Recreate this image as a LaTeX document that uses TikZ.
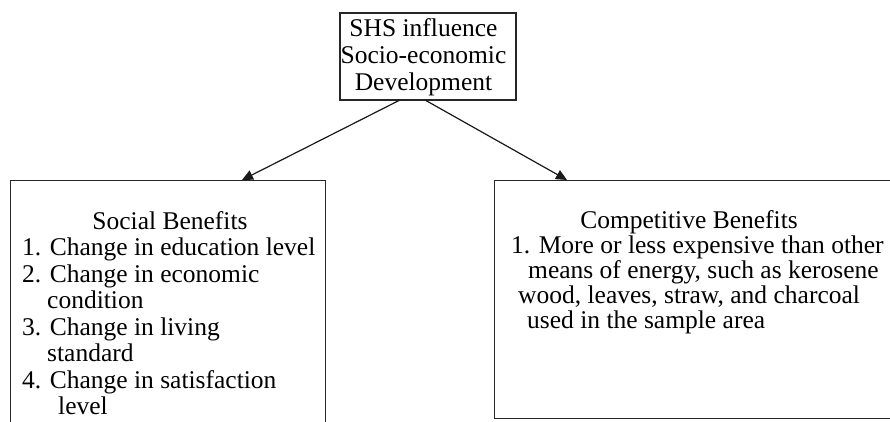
\documentclass[tikz,border=0pt]{standalone}
\usepackage{fontspec}
\setmainfont{Liberation Serif}
\usetikzlibrary{arrows.meta}
\begin{document}
\begin{tikzpicture}[x=1pt,y=-1pt,
  box/.style={draw=black!85,line width=1.2pt},
  txt/.style={font=\fontsize{25.5}{27}\selectfont,inner sep=0pt,anchor=base west},
  ctxt/.style={font=\fontsize{25.5}{27}\selectfont,inner sep=0pt,anchor=base},
  arr/.style={line width=1.2pt,draw=black!90,-{Triangle[length=11pt,width=10pt]}}]
\useasboundingbox (0,0) rectangle (890,422);
\clip (0,0) rectangle (890,422);
% top box
\node[box,minimum width=176pt,minimum height=87pt,inner sep=0pt] (top) at (428,56.5) {};
\node[ctxt] (t1) at (423.5,37) {SHS influence};
\node[ctxt] (t2) at (423.5,64) {Socio-economic};
\node[ctxt] (t3) at (423.5,91) {Development};
% left box
\node[box,minimum width=315pt,minimum height=280pt,inner sep=0pt,anchor=north west] (social) at (10,180) {};
\node[ctxt] (s0) at (170,229) {Social Benefits};
\node[txt] (s1) at (22,255.5) {1. Change in education level};
\node[txt] (s2) at (22,282) {2. Change in economic};
\node[txt] (s3) at (47,308.5) {condition};
\node[txt] (s4) at (22,335) {3. Change in living};
\node[txt] (s5) at (47,361.5) {standard};
\node[txt] (s6) at (22,388) {4. Change in satisfaction};
\node[txt] (s7) at (58,414.5) {level};
% right box
\node[box,minimum width=420pt,minimum height=238pt,inner sep=0pt,anchor=north west] (comp) at (494,180) {};
\node[ctxt] (c0) at (689,228) {Competitive Benefits};
\node[txt] (c1) at (511,253) {1. More or less expensive than other};
\node[txt] (c2) at (528,278) {means of energy, such as kerosene};
\node[txt] (c3) at (518,303) {wood, leaves, straw, and charcoal};
\node[txt] (c4) at (527,328) {used in the sample area};
% arrows
\coordinate (a1) at (400,100);
\coordinate (a2) at (425,100);
\coordinate (b1) at (242,180);
\coordinate (b2) at (567,180);
\draw[arr] (a1) -- (b1);
\draw[arr] (a2) -- (b2);
\end{tikzpicture}
\end{document}
